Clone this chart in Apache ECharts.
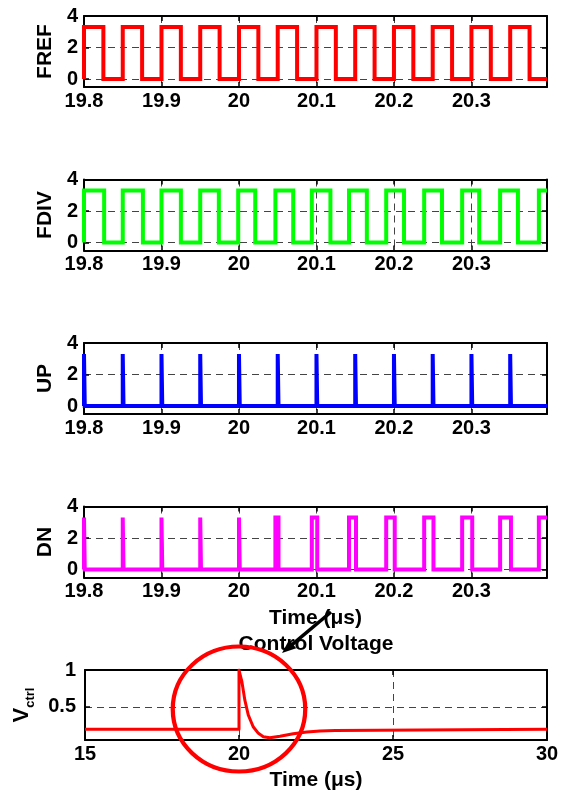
<!DOCTYPE html>
<html><head><meta charset="utf-8">
<script src="https://cdn.jsdelivr.net/npm/echarts@6/dist/echarts.min.js"></script>
<style>html,body{margin:0;padding:0;background:#fff}#c{width:563px;height:796px}</style>
</head><body><div id="c"></div>
<script>
// ---------- data ----------
const HIGH = 3.3;
const digitalXRange = [19.8, 20.3975];
const digitalXTicks = [19.8, 19.9, 20.0, 20.1, 20.2, 20.3];
const digitalYRange = [-0.5, 4];
const digitalYTicks = [0, 2, 4];

const frefRise = [19.800, 19.850, 19.900, 19.950, 20.000, 20.050, 20.100, 20.150, 20.200, 20.250, 20.300, 20.350];
const frefFall = [19.825, 19.875, 19.925, 19.975, 20.025, 20.075, 20.125, 20.175, 20.225, 20.275, 20.325, 20.375];

const fdivRise = [19.800, 19.850, 19.900, 19.950, 19.999, 20.047, 20.094, 20.142, 20.190, 20.239, 20.288, 20.337, 20.387];
const fdivFall = [19.826, 19.876, 19.925, 19.974, 20.021, 20.070, 20.118, 20.165, 20.213, 20.262, 20.310, 20.360];

const upRise = [19.800, 19.850, 19.900, 19.950, 20.000, 20.050, 20.100, 20.150, 20.200, 20.250, 20.300, 20.350];
const upFall = [19.801, 19.851, 19.901, 19.951, 20.001, 20.051, 20.101, 20.151, 20.201, 20.251, 20.301, 20.351];

const dnRise = [19.800, 19.850, 19.900, 19.950, 20.000, 20.047, 20.094, 20.142, 20.190, 20.239, 20.288, 20.337, 20.387];
const dnFall = [19.801, 19.851, 19.901, 19.951, 20.001, 20.051, 20.101, 20.151, 20.201, 20.251, 20.301, 20.351];

const panelNames = ['FREF', 'FDIV', 'UP', 'DN'];
const panelColors = ['#ff0000', '#00ff00', '#0000ff', '#ff00ff'];

const vctrlXRange = [15, 30];
const vctrlXTicks = [15, 20, 25, 30];
const vctrlYRange = [0.05, 1];
const vctrlYTicks = [0.5, 1];
const vctrlTime  = [15, 20.0, 20.0, 20.04, 20.09, 20.19, 20.30, 20.46, 20.63, 20.79, 21.0, 21.33, 21.76, 22.2, 22.63, 23.12, 23.17, 30];
const vctrlValue = [0.195, 0.195, 1.0, 0.93, 0.85, 0.59, 0.39, 0.23, 0.14, 0.095, 0.082, 0.10, 0.135, 0.16, 0.173, 0.18, 0.195, 0.195];

// ---------- build ----------
const FONT = 'Liberation Sans, Arial, Helvetica, sans-serif';
function pulseTrain(rise, fall, xEnd) {
  const pts = [];
  for (let i = 0; i < rise.length; i++) {
    pts.push([rise[i], 0], [rise[i], HIGH]);
    if (i < fall.length) pts.push([fall[i], HIGH], [fall[i], 0]);
    else pts.push([xEnd, HIGH]);
  }
  if (fall.length >= rise.length) pts.push([xEnd, 0]);
  return pts;
}
const trains = [
  pulseTrain(frefRise, frefFall, digitalXRange[1]),
  pulseTrain(fdivRise, fdivFall, digitalXRange[1]),
  pulseTrain(upRise, upFall, digitalXRange[1]),
  pulseTrain(dnRise, dnFall, digitalXRange[1])
];
const fmt = v => String(Math.round(v * 100) / 100);
const axisLineStyle = {color: '#000', width: 2};
const gridLineStyle = {color: '#444', type: [7, 5], width: 1};

const grids = [], xAxes = [], yAxes = [], series = [];
function addPanel(gi, top, height, left, xr, xt, yr, yt, yName, yNameGap, yLabelMargin, xName) {
  grids.push({left: left, right: 16, top: top, height: height, show: false});
  const xMain = {
    type: 'value', gridIndex: gi, min: xr[0], max: xr[1], position: 'bottom',
    axisLine: {show: true, onZero: false, lineStyle: axisLineStyle},
    axisTick: {show: true, inside: true, length: 5, customValues: xt, lineStyle: {color: '#000', width: 1.5}},
    axisLabel: {show: true, customValues: xt, formatter: fmt, color: '#000', fontFamily: FONT, fontWeight: 'bold', fontSize: 20, margin: 4},
    splitLine: {show: true, lineStyle: gridLineStyle}
  };
  if (xName) {
    xMain.name = xName; xMain.nameLocation = 'middle'; xMain.nameGap = 30;
    xMain.nameTextStyle = {color: '#000', fontFamily: FONT, fontWeight: 'bold', fontSize: 21};
  }
  xAxes.push(xMain);
  xAxes.push({
    type: 'value', gridIndex: gi, min: xr[0], max: xr[1], position: 'top',
    axisLine: {show: true, onZero: false, lineStyle: axisLineStyle},
    axisTick: {show: true, inside: true, length: 5, customValues: xt, lineStyle: {color: '#000', width: 1.5}},
    axisLabel: {show: false}, splitLine: {show: false}
  });
  yAxes.push({
    type: 'value', gridIndex: gi, min: yr[0], max: yr[1], position: 'left',
    name: yName, nameLocation: 'middle', nameGap: yNameGap, nameRotate: 90,
    nameTextStyle: typeof yName === 'string' && yName.indexOf('{') === 0 ? {
      color: '#000', fontFamily: FONT, fontWeight: 'bold',
      rich: {
        v: {fontSize: 22, fontWeight: 'bold', fontFamily: FONT, color: '#000', lineHeight: 30, verticalAlign: 'middle'},
        s: {fontSize: 13, fontWeight: 'bold', fontFamily: FONT, color: '#000', lineHeight: 14, verticalAlign: 'bottom'}
      }
    } : {color: '#000', fontFamily: FONT, fontWeight: 'bold', fontSize: 21},
    axisLine: {show: true, onZero: false, lineStyle: axisLineStyle},
    axisTick: {show: true, inside: true, length: 5, customValues: yt, lineStyle: {color: '#000', width: 1.5}},
    axisLabel: {show: true, customValues: yt, formatter: fmt, color: '#000', fontFamily: FONT, fontWeight: 'bold', fontSize: 20, margin: yLabelMargin},
    splitLine: {show: true, lineStyle: gridLineStyle}
  });
  yAxes.push({
    type: 'value', gridIndex: gi, min: yr[0], max: yr[1], position: 'right',
    axisLine: {show: true, onZero: false, lineStyle: axisLineStyle},
    axisTick: {show: true, inside: true, length: 5, customValues: yt, lineStyle: {color: '#000', width: 1.5}},
    axisLabel: {show: false}, splitLine: {show: false}
  });
}
const panelTops = [16, 179.5, 343, 506.5];
for (let i = 0; i < 4; i++) {
  addPanel(i, panelTops[i], 71, 84, digitalXRange, digitalXTicks, digitalYRange, digitalYTicks,
           panelNames[i], 25, 6, i === 3 ? 'Time (μs)' : null);
  series.push({
    type: 'line', xAxisIndex: 2 * i, yAxisIndex: 2 * i, data: trains[i],
    showSymbol: false, symbol: 'none', animation: false, clip: true,
    lineStyle: {color: panelColors[i], width: 4, join: 'miter', cap: 'butt'}
  });
}
addPanel(4, 670, 70, 85, vctrlXRange, vctrlXTicks, vctrlYRange, vctrlYTicks,
         '{v|V}{s|ctrl}', 43, 9, 'Time (μs)');
series.push({
  type: 'line', xAxisIndex: 8, yAxisIndex: 8,
  data: vctrlTime.map((t, i) => [t, vctrlValue[i]]),
  showSymbol: false, symbol: 'none', animation: false, clip: true,
  lineStyle: {color: '#ff0000', width: 3, join: 'round'}
});

const chart = echarts.init(document.getElementById('c'), null, {renderer: 'canvas'});
chart.setOption({
  backgroundColor: '#fff',
  animation: false,
  title: {text: 'Control Voltage', left: 316, top: 634, textAlign: 'center', padding: 0,
          textStyle: {color: '#000', fontFamily: FONT, fontWeight: 'bold', fontSize: 21}},
  grid: grids, xAxis: xAxes, yAxis: yAxes, series: series
});

// annotations: red ellipse around the transient, and the arrow
const ctr = chart.convertToPixel({xAxisIndex: 8, yAxisIndex: 8}, [20, 0.47]);
const tail = [331, 612], head = [282, 653];
const dx = head[0] - tail[0], dy = head[1] - tail[1], L = Math.hypot(dx, dy);
const ux = dx / L, uy = dy / L, nx = -uy, ny = ux, AL = 14, AW = 11;
chart.setOption({
  graphic: [
    {type: 'circle', x: ctr[0], y: ctr[1], scaleX: 1.06, scaleY: 1, shape: {cx: 0, cy: 0, r: 62.5}, z: 100,
     style: {fill: null, stroke: '#ff0000', lineWidth: 4, strokeNoScale: true}},
    {type: 'line', z: 101, shape: {x1: tail[0], y1: tail[1], x2: head[0] - ux * AL * 0.8, y2: head[1] - uy * AL * 0.8},
     style: {stroke: '#000', lineWidth: 3.5}},
    {type: 'polygon', z: 101, shape: {points: [
      [head[0], head[1]],
      [head[0] - ux * AL + nx * AW / 2, head[1] - uy * AL + ny * AW / 2],
      [head[0] - ux * AL - nx * AW / 2, head[1] - uy * AL - ny * AW / 2]]},
     style: {fill: '#000'}}
  ]
});
</script></body></html>
